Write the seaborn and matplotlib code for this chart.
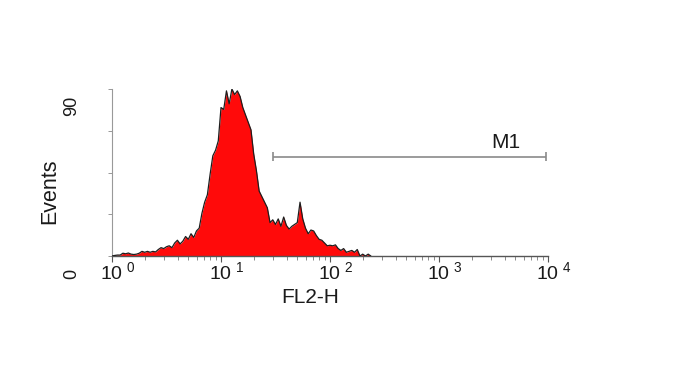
import numpy as np
import pandas as pd
import matplotlib
matplotlib.use("Agg")
import matplotlib.pyplot as plt
import seaborn as sns
from matplotlib.transforms import ScaledTranslation
from matplotlib.ticker import LogLocator, NullFormatter

# ---- data -------------------------------------------------------------
# FL2-H channels: log-evenly spaced channels (0.025 decade apart) from 10^0
channel_log_start = 0.0
channel_log_step = 0.025
counts = [0, 0.3, 0.5, 0.5, 1.5, 1.2, 1.6, 1.0, 0.8, 1.0,
          1.5, 2.5, 2.0, 2.5, 2.0, 2.5, 2.2, 3.5, 4.5, 4.0,
          5.0, 5.5, 4.5, 7.0, 8.5, 6.5, 8.0, 10.5, 9.0, 12.0,
          10.0, 13.5, 15.0, 23.0, 29.0, 33.0, 44.0, 54.0, 57.0, 62.0,
          80.0, 79.0, 89.0, 82.0, 90.0, 87.0, 89.0, 86.0, 80.0, 76.0,
          72.0, 68.0, 55.0, 46.0, 35.0, 32.0, 29.0, 26.0, 18.0, 19.5,
          17.0, 20.0, 16.0, 21.0, 16.5, 14.5, 16.0, 17.0, 18.0, 29.0,
          20.0, 15.0, 12.0, 14.0, 13.5, 11.0, 9.0, 8.5, 7.0, 5.5,
          5.8, 5.5, 6.0, 4.0, 3.0, 4.0, 2.0, 2.5, 3.0, 2.0,
          3.5, 0.0, 1.0, 0.0, 1.0, 0.0]
x_ticks = [1, 10, 100, 1000, 10000]
x_tick_labels = [r"$\mathregular{10^{\ 0}}$", r"$\mathregular{10^{\ 1}}$",
                 r"$\mathregular{10^{\ 2}}$", r"$\mathregular{10^{\ 3}}$",
                 r"$\mathregular{10^{\ 4}}$"]
y_ticks = [0, 90]
y_tick_labels = ["0", "90"]
marker_name = "M1"
marker_range = [30, 9600]
marker_level = 53.5

channels = 10 ** (channel_log_start + channel_log_step * np.arange(len(counts)))
df = pd.DataFrame({"FL2-H": channels, "Events": counts})

# ---- style ------------------------------------------------------------
sns.set_style("white")
plt.rcParams["font.family"] = ["Liberation Sans", "DejaVu Sans"]
plt.rcParams["mathtext.fontset"] = "custom"
plt.rcParams["mathtext.rm"] = "Liberation Sans"

fig = plt.figure(figsize=(6.87, 3.71), dpi=100)
ax = fig.add_axes([112 / 687, 1 - 256 / 371, 436 / 687, 167 / 371])

ax.set_xscale("log")
ax.fill_between(df["FL2-H"], 0, df["Events"], color="#ff0a0a", linewidth=0, zorder=2)
sns.lineplot(data=df, x="FL2-H", y="Events", ax=ax, color="#1e1e1e",
             linewidth=0.9, zorder=3)

# marker M1
ax.hlines(marker_level, marker_range[0], marker_range[1], color="#8a8a8a", linewidth=1.2)
ax.vlines(marker_range, marker_level - 2.5, marker_level + 2.5, color="#8a8a8a", linewidth=1.2)
ax.text(4100, marker_level + 7.5, marker_name, fontsize=15, ha="center", va="center", color="#1a1a1a")

ax.set_xlim(1, 10000)
ax.set_ylim(0, 90)

# spines
for s in ["top", "right"]:
    ax.spines[s].set_visible(False)
ax.spines["bottom"].set_color("#555555")
ax.spines["bottom"].set_linewidth(1.0)
ax.spines["left"].set_color("#999999")
ax.spines["left"].set_linewidth(0.8)

# x ticks
ax.set_xticks(x_ticks)
ax.set_xticklabels(x_tick_labels, fontsize=14, color="#1a1a1a")
ax.xaxis.set_minor_locator(LogLocator(base=10, subs=np.arange(2, 10)))
ax.xaxis.set_minor_formatter(NullFormatter())
ax.tick_params(axis="x", which="major", bottom=True, length=4, width=0.8, color="#555555", pad=3)
ax.tick_params(axis="x", which="minor", bottom=True, length=3, width=0.6, color="#777777")
for lab in ax.get_xticklabels():
    lab.set_transform(lab.get_transform() + ScaledTranslation(6 / 100, 5 / 100, fig.dpi_scale_trans))

# y ticks
ax.set_yticks(y_ticks)
ax.set_yticklabels(y_tick_labels, fontsize=13, color="#1a1a1a")
ax.set_yticks([22.5, 45, 67.5], minor=True)
ax.tick_params(axis="y", which="both", left=True, length=3, width=0.6, color="#888888", pad=26)
y_shift = {"0": -13, "90": -7}
for lab in ax.get_yticklabels():
    lab.set_rotation(90)
    lab.set_va("top")
    lab.set_ha("center")
    lab.set_transform(lab.get_transform() +
                      ScaledTranslation(0, y_shift[lab.get_text()] / 100, fig.dpi_scale_trans))

# labels
ax.set_xlabel("FL2-H", fontsize=15, color="#1a1a1a")
ax.set_ylabel("Events", fontsize=15.5, color="#1a1a1a")
ax.xaxis.set_label_coords(0.455, -0.25)
ax.xaxis.label.set_va("center")
ax.yaxis.set_label_coords(-0.142, 0.39)
ax.yaxis.label.set_va("center")

fig.savefig("out.png", dpi=100, facecolor="white")
